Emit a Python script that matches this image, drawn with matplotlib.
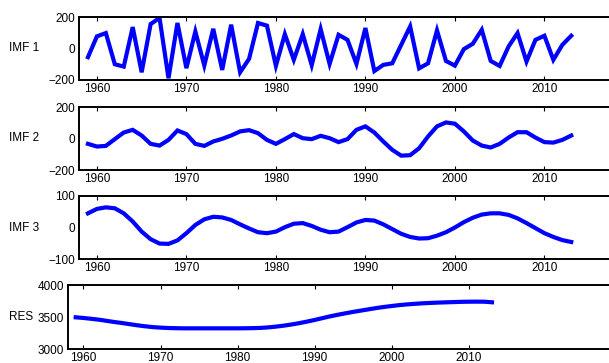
import matplotlib
matplotlib.use("Agg")
import matplotlib.pyplot as plt
import numpy as np

plt.rcParams['font.family'] = ['Liberation Sans', 'DejaVu Sans']
plt.rcParams['font.size'] = 8.5

# Years of the decomposition
years = np.arange(1959, 2014)

# IMF components and residual
imf1 = [-55, 77, 98, -100, -115, 136, -151, 155, 194, -189,
        162, -125, 108, -108, 125, -136, 151, -151, -66, 162,
        145, -110, 91, -72, 91, -106, 123, -98, 87, 55,
        -98, 130, -143, -104, -94, 23, 140, -126, -94, 115,
        -79, -109, -4, 30, 119, -79, -111, 13, 98, -83,
        55, 81, -72, 23, 81]
imf2 = [-34, -51, -47, -4, 38, 55, 19, -34, -45, -9,
        51, 28, -34, -47, -19, -2, 19, 45, 53, 34,
        -9, -34, -4, 28, 2, -4, 17, 2, -23, -4,
        55, 77, 38, -19, -72, -109, -106, -62, 13, 77,
        102, 94, 45, -13, -45, -57, -34, 6, 40, 40,
        6, -23, -26, -9, 19]
imf3 = [45, 59, 64, 61, 45, 19, -13, -37, -51, -52,
        -41, -18, 8, 26, 34, 32, 24, 10, -3, -15,
        -18, -13, 1, 12, 14, 5, -7, -15, -13, 1,
        16, 24, 22, 10, -5, -20, -30, -35, -34, -26,
        -15, 0, 17, 31, 41, 45, 45, 40, 29, 14,
        -2, -18, -30, -40, -46]
res = [3495, 3485, 3472, 3458, 3440, 3422, 3406, 3388, 3370, 3355,
       3342, 3334, 3328, 3325, 3323, 3323, 3323, 3323, 3323, 3323,
       3323, 3323, 3324, 3326, 3330, 3338, 3350, 3365, 3383, 3404,
       3428, 3454, 3482, 3510, 3535, 3558, 3580, 3600, 3620, 3640,
       3657, 3672, 3686, 3697, 3706, 3714, 3720, 3725, 3729, 3733,
       3737, 3739, 3740, 3739, 3730]

labels = ["IMF 1", "IMF 2", "IMF 3", "RES"]
series = [imf1, imf2, imf3, res]
ylims = [(-200, 200), (-200, 200), (-100, 100), (3000, 4000)]
yticks = [[-200, 0, 200], [-200, 0, 200], [-100, 0, 100], [3000, 3500, 4000]]
xticks = [1960, 1970, 1980, 1990, 2000, 2010]

W, H = 609, 363
fig = plt.figure(figsize=(W / 100, H / 100), dpi=100)

# panel boxes in pixels: left, top, bottom, right (right runs off the image)
boxes = [(79, 17, 80, 616), (79, 107, 170, 616), (79, 196, 259, 616), (68, 285, 349, 623)]
xlims = [(1958, 2018), (1958, 2018), (1958, 2018), (1958, 2030)]
label_y = [48, 138, 228, 317]

for i in range(4):
    l, t, b, r = boxes[i]
    ax = fig.add_axes([l / W, 1 - b / H, (r - l) / W, (b - t) / H])
    ax.plot(years, series[i], color='#0000ff', lw=3, solid_joinstyle='miter')
    ax.set_xlim(*xlims[i])
    ax.set_ylim(*ylims[i])
    ax.set_xticks(xticks)
    ax.set_yticks(yticks[i])
    ax.tick_params(axis='x', direction='in', top=True, length=3, width=0.8, pad=2)
    ax.tick_params(axis='y', direction='in', length=0, pad=3)
    for s in ax.spines.values():
        s.set_linewidth(1.4)
    ax.spines['right'].set_visible(False)
    fig.text(9 / W, 1 - label_y[i] / H, labels[i], ha='left', va='center')

fig.savefig("out.png", dpi=100)
